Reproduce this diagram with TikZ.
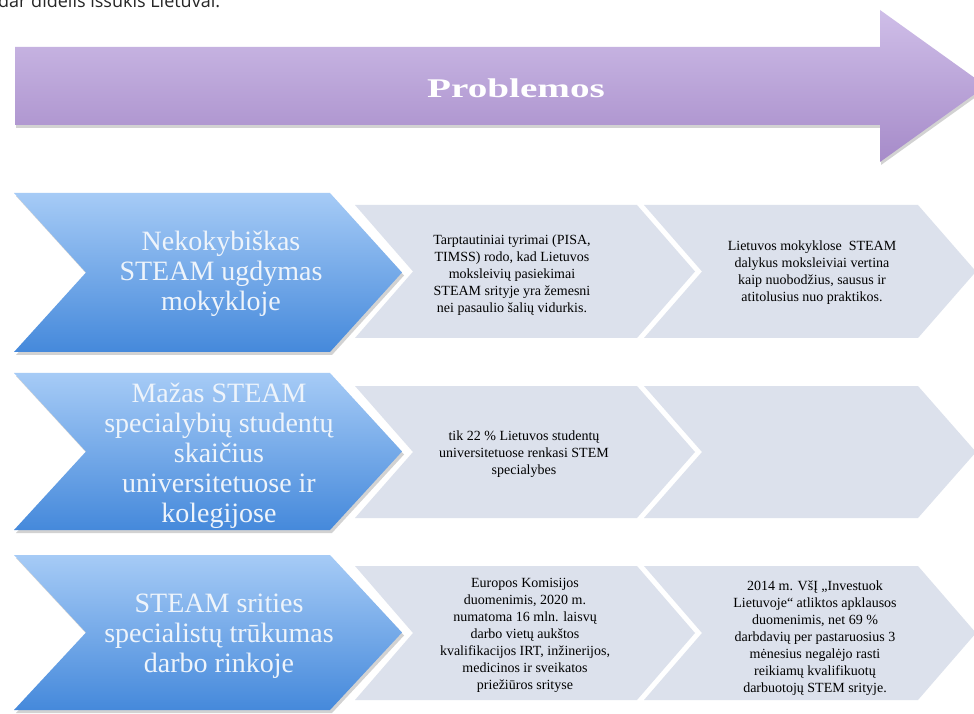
\documentclass[tikz,border=0pt]{standalone}
\usepackage{fontspec}
\setmainfont{Liberation Serif}
\newfontfamily\probfont[FakeStretch=1.45]{Liberation Serif}
\newfontfamily\topfont{Open Sans}
\usetikzlibrary{shadows}
\definecolor{purpleTop}{HTML}{CFBEE8}
\definecolor{purpleBot}{HTML}{A68BC9}
\definecolor{blueTop}{HTML}{A6CBF6}
\definecolor{blueBot}{HTML}{4589DB}
\definecolor{blueText}{HTML}{EEF4FB}
\definecolor{greyFill}{HTML}{DCE1EC}
\tikzset{
  purplearrow/.style={top color=purpleTop, bottom color=purpleBot, draw=none,
    drop shadow={shadow xshift=1pt, shadow yshift=-3pt, opacity=0.25, fill=black!70}},
  bluechev/.style={top color=blueTop, bottom color=blueBot, draw=none,
    drop shadow={shadow xshift=2pt, shadow yshift=-3pt, opacity=0.25, fill=black!70}},
  greychev/.style={fill=greyFill, draw=none},
  bluetext/.style={text=blueText, align=center, inner sep=0pt, font=\fontsize{28}{30}\selectfont},
  greytext/.style={text=black, align=center, inner sep=0pt, font=\fontsize{14}{17}\selectfont},
}
% x0, x1 (top-right corner), ytop, ybot (measured from top), depth, style
\newcommand\mychev[6]{%
  \path[#6] (#1,{713-#3}) -- (#2,{713-#3}) -- ({#2+#5},{713-(#3+#4)/2}) -- (#2,{713-#4})
    -- (#1,{713-#4}) -- ({#1+#5},{713-(#3+#4)/2}) -- cycle;}
\begin{document}
\begin{tikzpicture}[x=1pt,y=1pt]
\useasboundingbox (0,0) rectangle (974,713);
\clip (0,0) rectangle (974,713);
\fill[white] (0,0) rectangle (974,713);

% cut-off line of text above
\node[anchor=base west, inner sep=0pt, text=black!85, font=\topfont\fontsize{18}{18}\selectfont] (toptext) at (-2,{713-8}) {dar didelis iššūkis Lietuvai.};

% purple arrow
\path[purplearrow] (15,{713-47}) -- (880,{713-47}) -- (880,{713-10}) -- (986,{713-86})
  -- (880,{713-162}) -- (880,{713-125}) -- (15,{713-125}) -- cycle;
\node[text=white, font=\probfont\bfseries\fontsize{27}{27}\selectfont] (prob) at (516,{713-88}) {Problemos};

% blue chevrons
\mychev{14}{330}{193}{352}{72}{bluechev}
\mychev{14}{330}{373}{530}{72}{bluechev}
\mychev{14}{330}{555}{710}{72}{bluechev}

% grey chevrons
\mychev{355}{637}{205}{338}{58}{greychev}
\mychev{644}{918}{205}{338}{58}{greychev}
\mychev{355}{637}{386}{518}{58}{greychev}
\mychev{644}{918}{386}{518}{58}{greychev}
\mychev{355}{637}{566}{700}{58}{greychev}
\mychev{644}{918}{566}{700}{58}{greychev}

% blue texts
\node[bluetext] (b1) at (221,{713-274}) {Nekokybiškas\\STEAM ugdymas\\mokykloje};
\node[bluetext] (b2) at (219,{713-456}) {Mažas STEAM\\specialybių studentų\\skaičius\\universitetuose ir\\kolegijose};
\node[bluetext] (b3) at (219,{713-636}) {STEAM srities\\specialistų trūkumas\\darbo rinkoje};

% grey texts
\node[greytext] (g11) at (512,{713-275}) {Tarptautiniai tyrimai (PISA,\\TIMSS) rodo, kad Lietuvos\\moksleivių pasiekimai\\STEAM srityje yra žemesni\\nei pasaulio šalių vidurkis.};
\node[greytext] (g12) at (812,{713-273}) {Lietuvos mokyklose\ \ STEAM\\dalykus moksleiviai vertina\\kaip nuobodžius, sausus ir\\atitolusius nuo praktikos.};
\node[greytext] (g21) at (524,{713-454}) {tik 22 \% Lietuvos studentų\\universitetuose renkasi STEM\\specialybes};
\node[greytext] (g31) at (525,{713-635}) {Europos Komisijos\\duomenimis, 2020 m.\\numatoma 16 mln. laisvų\\darbo vietų aukštos\\kvalifikacijos IRT, inžinerijos,\\medicinos ir sveikatos\\priežiūros srityse};
\node[greytext] (g32) at (815,{713-638}) {2014 m. VšĮ „Investuok\\Lietuvoje“ atliktos apklausos\\duomenimis, net 69 \%\\darbdavių per pastaruosius 3\\mėnesius negalėjo rasti\\reikiamų kvalifikuotų\\darbuotojų STEM srityje.};
\end{tikzpicture}
\end{document}
